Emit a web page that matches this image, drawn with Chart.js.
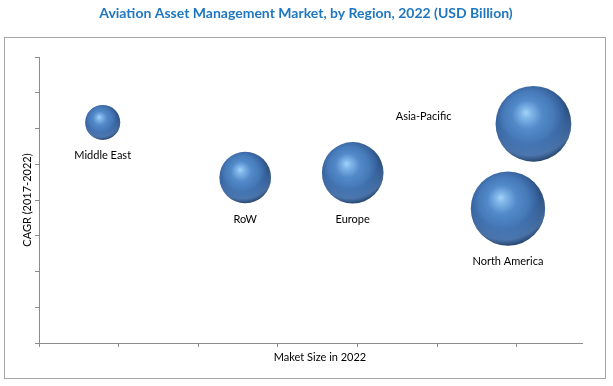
<!DOCTYPE html>
<html lang="en">
<head>
    <meta charset="UTF-8">
    <title>Aviation Asset Management Market</title>
    <script src="https://cdn.jsdelivr.net/npm/chart.js"></script>
    <style>
        html, body { margin: 0; padding: 0; background: #fff; }
        .chart-box { position: relative; width: 613px; height: 386px; }
    </style>
</head>
<body>
    <div class="chart-box">
        <canvas id="bubbleChart"></canvas>
    </div>

    <script>
        // Data
        const regions = ['Middle East', 'RoW', 'Europe', 'Asia-Pacific', 'North America'];
        const marketSize = [0.80, 2.59, 3.94, 6.21, 5.89];   // x
        const cagr = [6.17, 4.63, 4.76, 6.13, 3.76];         // y
        const bubbleSize = [1.2, 2.6, 3.7, 5.6, 5.4];        // bubble area
        const labelSide = ['below', 'below', 'below', 'left', 'below'];

        const chartTitle = 'Aviation Asset Management Market, by Region, 2022 (USD Billion)';
        const FONT = 'Lato, "Open Sans", sans-serif';
        const axisGray = '#8c8c8c';

        const points = regions.map((name, i) => ({
            x: marketSize[i],
            y: cagr[i],
            r: 16 * Math.sqrt(bubbleSize[i])
        }));

        // sphere-like shading for each bubble
        function sphereFill(ctx) {
            const chart = ctx.chart;
            if (!ctx.raw || !chart.scales.x) return '#4f81bd';
            const cx = chart.scales.x.getPixelForValue(ctx.raw.x);
            const cy = chart.scales.y.getPixelForValue(ctx.raw.y);
            const r = ctx.raw.r;
            if (!isFinite(cx) || !isFinite(cy)) return '#4f81bd';
            const g = chart.ctx.createRadialGradient(cx - 0.2 * r, cy - 0.3 * r, 0,
                                                     cx - 0.08 * r, cy - 0.12 * r, 1.12 * r);
            g.addColorStop(0, '#a3d3f8');
            g.addColorStop(0.12, '#80b6e9');
            g.addColorStop(0.35, '#528ac9');
            g.addColorStop(0.6, '#4679b8');
            g.addColorStop(0.8, '#36619b');
            g.addColorStop(0.95, '#25446f');
            g.addColorStop(1, '#203b61');
            return g;
        }

        // outer frame + chart title
        const frame = {
            id: 'frame',
            beforeDraw(chart) {
                const c = chart.ctx;
                c.save();
                c.strokeStyle = '#a6a6a6';
                c.lineWidth = 1;
                c.strokeRect(4.5, 37.5, 601, 341);
                c.font = 'bold 14px ' + FONT;
                c.fillStyle = '#1f77c0';
                c.textAlign = 'center';
                c.textBaseline = 'middle';
                c.fillText(chartTitle, 306, 13);
                c.restore();
            }
        };

        const regionLabels = {
            id: 'regionLabels',
            afterDatasetsDraw(chart) {
                const c = chart.ctx;
                const meta = chart.getDatasetMeta(0);
                c.save();
                // soft reflection along the lower rim
                meta.data.forEach((el, i) => {
                    const r = points[i].r;
                    c.save();
                    c.beginPath();
                    c.arc(el.x, el.y, r, 0, Math.PI * 2);
                    c.clip();
                    const g = c.createRadialGradient(el.x - 0.1 * r, el.y - 0.45 * r, 0.95 * r,
                                                     el.x - 0.1 * r, el.y - 0.45 * r, 1.5 * r);
                    g.addColorStop(0, 'rgba(110,160,220,0)');
                    g.addColorStop(0.6, 'rgba(110,160,220,0.45)');
                    g.addColorStop(1, 'rgba(110,160,220,0)');
                    c.fillStyle = g;
                    c.fillRect(el.x - r, el.y - r, 2 * r, 2 * r);
                    c.restore();
                });

                c.font = '11px ' + FONT;
                c.fillStyle = '#000';
                c.textBaseline = 'middle';
                c.textAlign = 'center';
                meta.data.forEach((el, i) => {
                    const r = points[i].r;
                    if (labelSide[i] === 'left') {
                        c.fillText(regions[i], el.x - r - 72, el.y - 7);
                    } else {
                        c.fillText(regions[i], el.x, el.y + r + 16);
                    }
                });
                // x axis title
                c.fillText('Maket Size in 2022', 320, 357);
                c.restore();
            }
        };

        new Chart(document.getElementById('bubbleChart'), {
            type: 'bubble',
            data: {
                datasets: [{
                    label: 'Regions',
                    data: points,
                    backgroundColor: sphereFill,
                    borderWidth: 0,
                    hoverBorderWidth: 0
                }]
            },
            options: {
                responsive: true,
                maintainAspectRatio: false,
                animation: false,
                events: [],
                layout: { autoPadding: false, padding: { left: 0, right: 31, top: 57, bottom: 0 } },
                plugins: {
                    legend: { display: false },
                    tooltip: { enabled: false },
                    title: { display: false }
                },
                scales: {
                    x: {
                        type: 'linear',
                        min: 0,
                        max: 6.82,
                        ticks: { stepSize: 1, display: false, includeBounds: false },
                        grid: { drawOnChartArea: false, drawTicks: true, tickLength: 4, color: axisGray },
                        border: { display: true, color: axisGray },
                        afterFit(scale) { scale.height = 43; }
                    },
                    y: {
                        type: 'linear',
                        min: 0,
                        max: 8,
                        ticks: { stepSize: 1, display: false },
                        grid: { drawOnChartArea: false, drawTicks: true, tickLength: 4, color: axisGray },
                        border: { display: true, color: axisGray },
                        title: {
                            display: true,
                            text: 'CAGR (2017-2022)',
                            color: '#000',
                            font: { family: FONT, size: 11 },
                            padding: { top: 21, bottom: 0 }
                        },
                        afterFit(scale) { scale.width = 39; }
                    }
                }
            },
            plugins: [frame, regionLabels]
        });
    </script>
</body>
</html>
